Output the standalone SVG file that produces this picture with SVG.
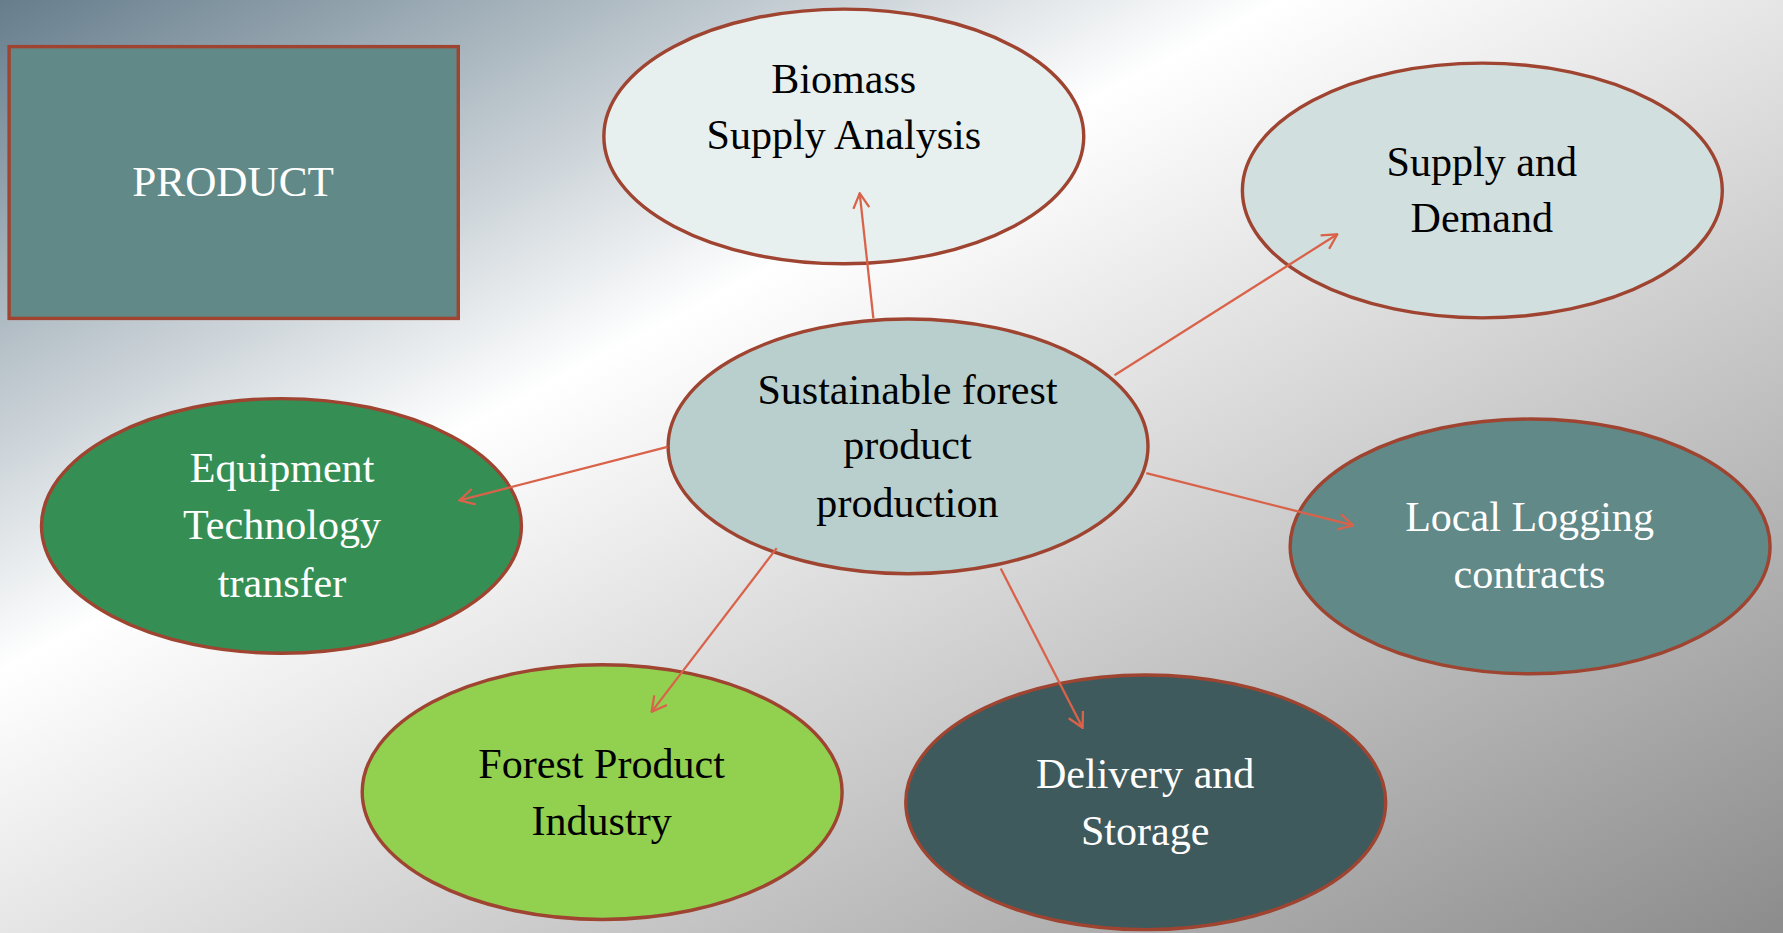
<svg xmlns="http://www.w3.org/2000/svg" width="1783" height="933" viewBox="0 0 1783 933">
<defs>
<linearGradient id="bg" x1="0" y1="0" x2="1" y2="1">
<stop offset="0" stop-color="#667d8c"/>
<stop offset="0.36" stop-color="#ffffff"/>
<stop offset="1" stop-color="#8c8c8c"/>
</linearGradient>
<marker id="arr" markerWidth="16" markerHeight="16" markerUnits="userSpaceOnUse" viewBox="0 0 16 16" refX="15" refY="8" orient="auto">
<path d="M2,1 L15,8 L2,15" fill="none" stroke="#d9634a" stroke-width="2"/>
</marker>
<style>
.n{stroke:#9e4431;stroke-width:3}
.t{font-family:"Liberation Serif","Times New Roman",serif;font-size:37px;text-anchor:middle}
.w{fill:#ffffff}
.k{fill:#000000}
.c{stroke:#d9634a;stroke-width:2;fill:none;marker-end:url(#arr)}
</style>
</defs>
<rect x="0" y="0" width="1783" height="933" fill="url(#bg)"/>
<g transform="scale(1.1372)">
<g id="product">
<rect class="n" x="8" y="41" width="395" height="239" fill="#608987"/>
<text class="t w" x="205" y="172" style="font-size:38px">PRODUCT</text>
</g>
<g id="biomass">
<ellipse class="n" cx="742" cy="120" rx="211" ry="112" fill="#e8f0ef"/>
<text class="t k" x="742" y="82">Biomass</text>
<text class="t k" x="742" y="131">Supply Analysis</text>
</g>
<g id="supply">
<ellipse class="n" cx="1303.5" cy="167.5" rx="211" ry="112" fill="#d2dfdf"/>
<text class="t k" x="1303" y="155">Supply and</text>
<text class="t k" x="1303" y="204">Demand</text>
</g>
<g id="center">
<ellipse class="n" cx="798.5" cy="392.5" rx="211" ry="112" fill="#b9cfcd"/>
<text class="t k" x="798" y="355">Sustainable forest</text>
<text class="t k" x="798" y="404">product</text>
<text class="t k" x="798" y="455">production</text>
</g>
<g id="equipment">
<ellipse class="n" cx="247.5" cy="462.5" rx="211" ry="112" fill="#358f55"/>
<text class="t w" x="248" y="424">Equipment</text>
<text class="t w" x="248" y="474">Technology</text>
<text class="t w" x="248" y="525">transfer</text>
</g>
<g id="logging">
<ellipse class="n" cx="1345.5" cy="480.5" rx="211" ry="112" fill="#608987"/>
<text class="t w" x="1345" y="467">Local Logging</text>
<text class="t w" x="1345" y="517">contracts</text>
</g>
<g id="forest">
<ellipse class="n" cx="529.5" cy="696.5" rx="211" ry="112" fill="#92d050"/>
<text class="t k" x="529" y="684">Forest Product</text>
<text class="t k" x="529" y="734">Industry</text>
</g>
<g id="delivery">
<ellipse class="n" cx="1007.5" cy="705.5" rx="211" ry="112" fill="#3f5a5c"/>
<text class="t w" x="1007" y="693">Delivery and</text>
<text class="t w" x="1007" y="743">Storage</text>
</g>
<g id="connectors">
<line class="c" x1="768" y1="280" x2="756" y2="170"/>
<line class="c" x1="980" y1="330" x2="1176" y2="206"/>
<line class="c" x1="1008" y1="416" x2="1190" y2="462"/>
<line class="c" x1="880" y1="500" x2="952" y2="640"/>
<line class="c" x1="683" y1="482" x2="573" y2="626"/>
<line class="c" x1="587" y1="393" x2="404" y2="440"/>
</g>
</g>
</svg>
